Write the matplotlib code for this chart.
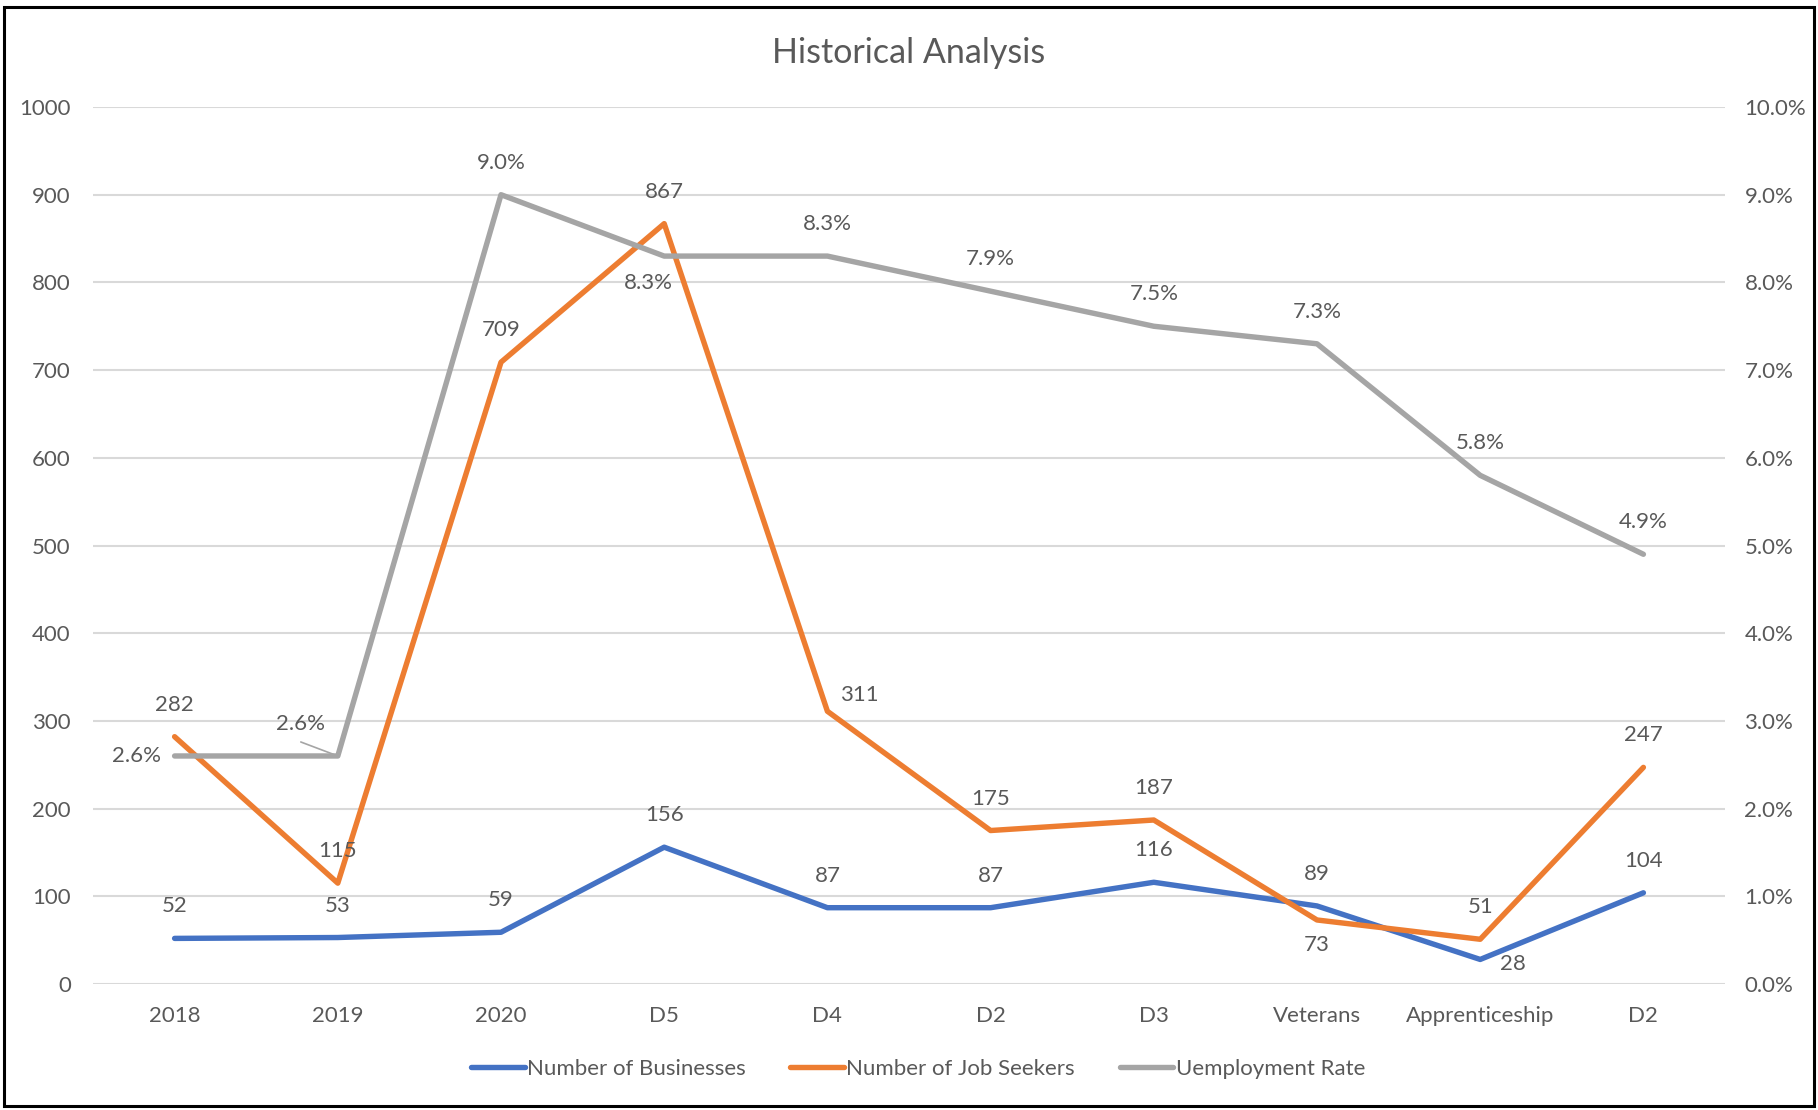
import matplotlib
matplotlib.use('Agg')
import matplotlib.pyplot as plt
from matplotlib.patches import Rectangle
from matplotlib.ticker import PercentFormatter

plt.rcParams['font.family'] = ['Lato', 'DejaVu Sans']

categories = ['2018', '2019', '2020', 'D5', 'D4', 'D2', 'D3', 'Veterans', 'Apprenticeship', 'D2']
businesses = [52, 53, 59, 156, 87, 87, 116, 89, 28, 104]
job_seekers = [282, 115, 709, 867, 311, 175, 187, 73, 51, 247]
unemployment = [2.6, 2.6, 9.0, 8.3, 8.3, 7.9, 7.5, 7.3, 5.8, 4.9]   # percent

# label offsets in pixels (dx, dy); default is straight above the point
ABOVE = (0, 32)
biz_offsets = {8: (33, -5)}
job_offsets = {4: (32, 16), 7: (0, -25)}
unemp_offsets = {0: (-38, 0), 1: (-37, 32), 3: (-16, -27)}

text_color = '#595959'
grid_color = '#D9D9D9'
c_blue, c_orange, c_grey = '#4472C4', '#ED7D31', '#A5A5A5'
fs = 16

fig = plt.figure(figsize=(18.18, 11.10), dpi=100)
ax = fig.add_axes([93 / 1818, 1 - 984 / 1110, (1725 - 93) / 1818, (984 - 107) / 1110])
ax2 = ax.twinx()

x = list(range(len(categories)))
l1, = ax.plot(x, businesses, color=c_blue, lw=3.9, solid_capstyle='round', label='Number of Businesses', zorder=3)
l2, = ax.plot(x, job_seekers, color=c_orange, lw=3.9, solid_capstyle='round', label='Number of Job Seekers', zorder=3)
l3, = ax2.plot(x, unemployment, color=c_grey, lw=3.9, solid_capstyle='round', label='Uemployment Rate', zorder=3)

ax.set_xlim(-0.5, len(categories) - 0.5)
ax.set_ylim(0, 1000)
ax.set_yticks(range(0, 1001, 100))
ax2.set_ylim(0, 10)
ax2.set_yticks(range(0, 11))
ax2.yaxis.set_major_formatter(PercentFormatter(decimals=1))
ax.set_xticks(x)
ax.set_xticklabels(categories)

ax.grid(axis='y', color=grid_color, lw=1.5)
ax.set_axisbelow(True)
for a in (ax, ax2):
    for s in a.spines.values():
        s.set_visible(False)
ax.tick_params(axis='x', length=0, pad=16, labelsize=fs, labelcolor=text_color)
ax.tick_params(axis='y', length=0, pad=16, labelsize=fs, labelcolor=text_color)
ax2.tick_params(axis='y', length=0, pad=14, labelsize=fs, labelcolor=text_color)


def label(a, xs, ys, texts, offsets):
    for i, (xi, yi, t) in enumerate(zip(xs, ys, texts)):
        dx, dy = offsets.get(i, ABOVE)
        a.annotate(t, (xi, yi), xytext=(dx, dy), textcoords='offset pixels',
                   ha='center', va='center', fontsize=fs, color=text_color, zorder=5)


label(ax, x, businesses, [str(v) for v in businesses], biz_offsets)
label(ax, x, job_seekers, [str(v) for v in job_seekers], job_offsets)
label(ax2, x, unemployment, ['%.1f%%' % v for v in unemployment], unemp_offsets)
# leader line for the moved 2019 rate label
ax2.annotate('', (1, unemployment[1]), xytext=(-37, 14), textcoords='offset pixels',
             arrowprops=dict(arrowstyle='-', color=c_grey, lw=1.2, shrinkA=0, shrinkB=3))

fig.text(0.5, 1 - 53 / 1110, 'Historical Analysis', ha='center', va='center',
         fontsize=24.5, color=text_color)

fig.legend(handles=[l1, l2, l3], loc='center', bbox_to_anchor=(0.505, 1 - 1069 / 1110),
           ncol=3, frameon=False, fontsize=fs, labelcolor=text_color,
           handlelength=2.4, handletextpad=0.12, columnspacing=2.0)

fig.patches.append(Rectangle((4 / 1818, 1 - 1106 / 1110), 1810 / 1818, 1099 / 1110,
                             transform=fig.transFigure, fill=False, ec='black', lw=2.2))

fig.savefig('out.png', dpi=100)
